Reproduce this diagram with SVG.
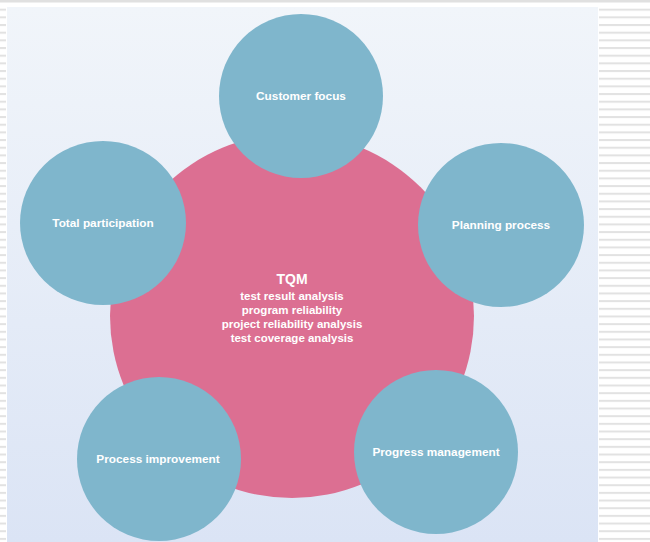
<svg xmlns="http://www.w3.org/2000/svg" width="650" height="542" viewBox="0 0 650 542">
<defs>
<linearGradient id="bg" x1="0" y1="0" x2="0" y2="1">
<stop offset="0" stop-color="#f1f5fa"/>
<stop offset="1" stop-color="#dbe4f5"/>
</linearGradient>
<pattern id="stripes" x="0" y="1" width="10" height="7.67" patternUnits="userSpaceOnUse">
<rect x="0" y="0" width="10" height="7.67" fill="#ffffff"/>
<rect x="0" y="0" width="10" height="2" fill="#e2e2e2"/>
</pattern>
<style>
.sat{fill:#7fb6cc}
.lbl{font-family:"Liberation Sans",Arial,sans-serif;font-weight:bold;font-size:11.8px;fill:#ffffff;text-anchor:middle}
.ctr{font-family:"Liberation Sans",Arial,sans-serif;font-weight:bold;font-size:11.5px;fill:#ffffff;text-anchor:middle}
</style>
</defs>
<rect x="0" y="0" width="650" height="542" fill="#ffffff"/>
<rect x="0" y="0" width="650" height="2.5" fill="#e0e0e0"/>
<rect x="599" y="6" width="51" height="536" fill="url(#stripes)"/>
<rect x="0" y="6" width="6" height="536" fill="url(#stripes)"/>
<rect x="7" y="7" width="591" height="535" fill="url(#bg)"/>
<g id="tqm">
<circle cx="292" cy="316" r="182" fill="#dc6f92"/>
<text class="ctr" x="292" y="284" style="font-size:14px">TQM</text>
<text class="ctr" x="292" y="300">test result analysis</text>
<text class="ctr" x="292" y="314">program reliability</text>
<text class="ctr" x="292" y="328">project reliability analysis</text>
<text class="ctr" x="292" y="342">test coverage analysis</text>
</g>
<g id="customer-focus">
<ellipse class="sat" cx="301" cy="96" rx="82" ry="82"/>
<text class="lbl" x="301" y="100">Customer focus</text>
</g>
<g id="planning-process">
<ellipse class="sat" cx="501" cy="225" rx="83" ry="82"/>
<text class="lbl" x="501" y="229">Planning process</text>
</g>
<g id="total-participation">
<ellipse class="sat" cx="103" cy="223" rx="83" ry="82"/>
<text class="lbl" x="103" y="227">Total participation</text>
</g>
<g id="process-improvement">
<ellipse class="sat" cx="159" cy="459" rx="82" ry="82"/>
<text class="lbl" x="158" y="463">Process improvement</text>
</g>
<g id="progress-management">
<ellipse class="sat" cx="436" cy="452" rx="82" ry="82"/>
<text class="lbl" x="436" y="456">Progress management</text>
</g>
<g id="connectors"></g>
</svg>
